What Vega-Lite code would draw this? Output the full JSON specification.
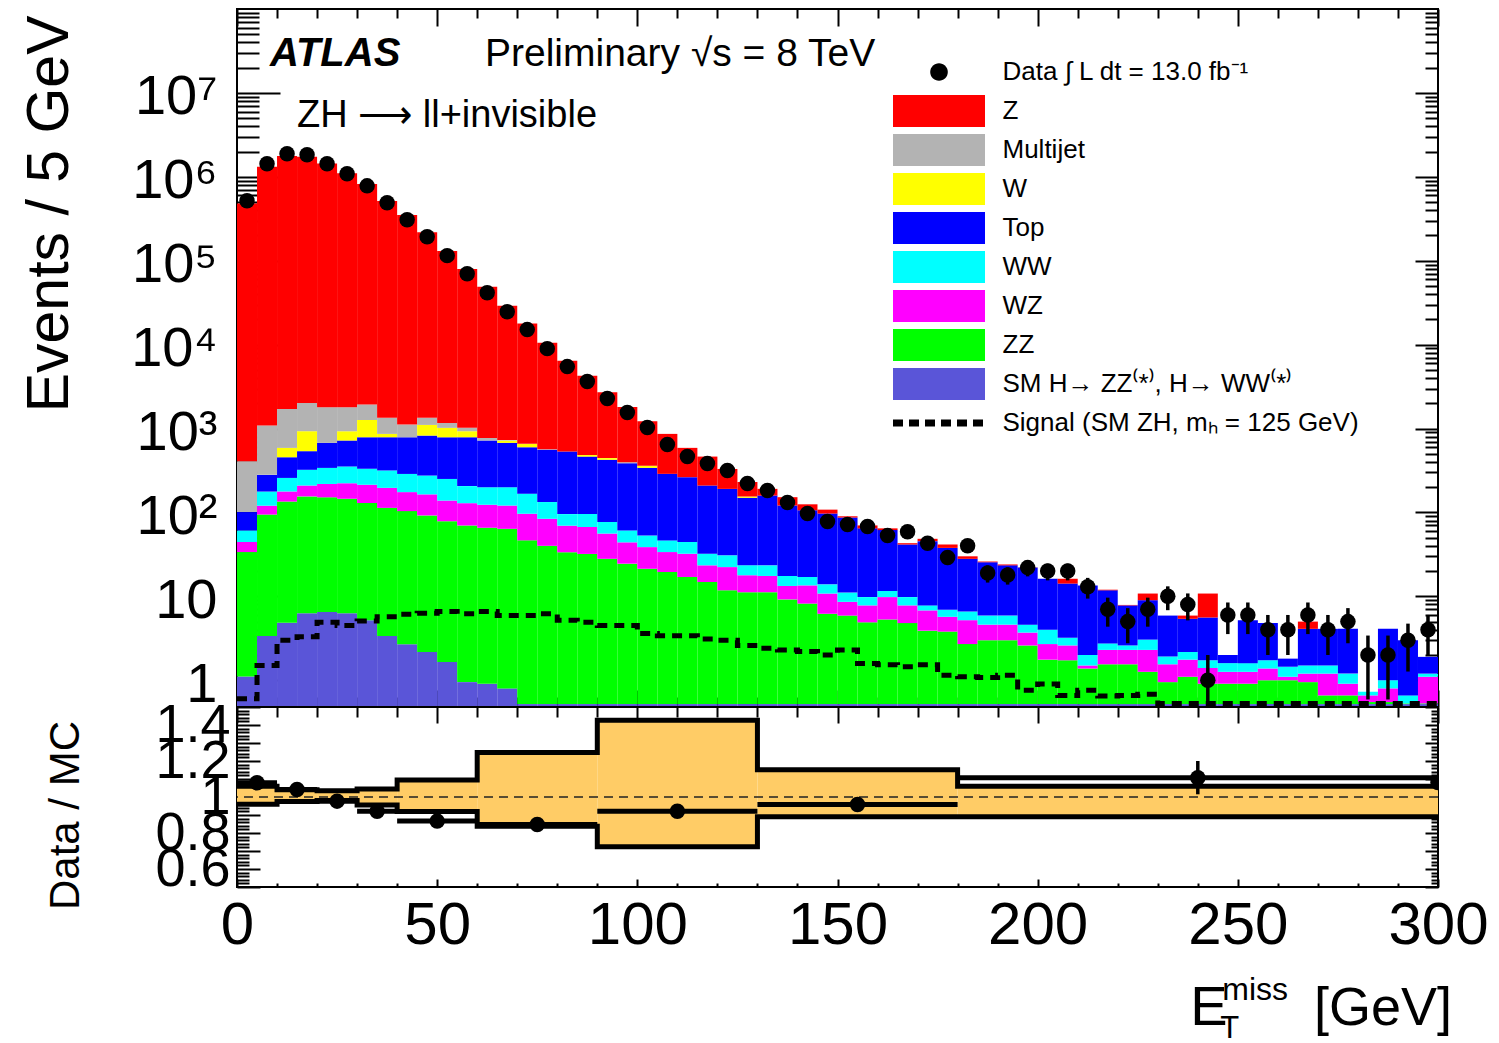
{
 "$schema": "https://vega.github.io/schema/vega-lite/v6.json",
 "autosize": {"type": "none"},
 "padding": {"left": 237, "top": 9, "right": 61, "bottom": 1034},
 "background": "white",
 "config": {
  "font": "Liberation Sans",
  "view": {"stroke": "black", "strokeWidth": 2},
  "axis": {"domain": false, "grid": false, "tickColor": "black", "tickWidth": 2, "labelColor": "black", "titleColor": "black", "titleFontWeight": "normal", "labelFont": "Liberation Sans", "titleFont": "Liberation Sans"},
  "legend": {"labelFont": "Liberation Sans", "labelColor": "black"}
 },
 "datasets": {
  "procs": [{"p":"SMH","k":1},{"p":"ZZ","k":2},{"p":"WZ","k":3},{"p":"WW","k":4},{"p":"Top","k":5},{"p":"W","k":6},{"p":"Multijet","k":7},{"p":"Z","k":8}],
  "mc": [
   {"lo":0,"hi":5,"SMH":1.11,"ZZ":32.6,"WZ":10.7,"WW":16.6,"Top":40,"W":0,"Multijet":307,"Z":479600},
   {"lo":5,"hi":10,"SMH":3.37,"ZZ":91,"WZ":26,"WW":57,"Top":103,"W":0,"Multijet":803,"Z":1319000},
   {"lo":10,"hi":15,"SMH":4.85,"ZZ":130,"WZ":43,"WW":80,"Top":197,"W":133,"Multijet":1126,"Z":1768000},
   {"lo":15,"hi":20,"SMH":6.3,"ZZ":149,"WZ":54,"WW":113,"Top":215,"W":392,"Multijet":1089,"Z":1728000},
   {"lo":20,"hi":25,"SMH":6.5,"ZZ":145,"WZ":67,"WW":121,"Top":335,"W":0,"Multijet":1120,"Z":1438000},
   {"lo":25,"hi":30,"SMH":6.3,"ZZ":139,"WZ":78,"WW":129,"Top":367,"W":210,"Multijet":866,"Z":1098000},
   {"lo":30,"hi":35,"SMH":5.2,"ZZ":124,"WZ":84,"WW":118,"Top":456,"W":480,"Multijet":661,"Z":818000},
   {"lo":35,"hi":40,"SMH":3.37,"ZZ":110,"WZ":83,"WW":120,"Top":471,"W":76,"Multijet":477,"Z":514700},
   {"lo":40,"hi":45,"SMH":2.68,"ZZ":101,"WZ":71,"WW":113,"Top":499,"W":0,"Multijet":327,"Z":348900},
   {"lo":45,"hi":50,"SMH":2.17,"ZZ":90,"WZ":72,"WW":111,"Top":549,"W":280,"Multijet":236,"Z":217700},
   {"lo":50,"hi":55,"SMH":1.65,"ZZ":77,"WZ":60,"WW":112,"Top":536,"W":232,"Multijet":148,"Z":129800},
   {"lo":55,"hi":60,"SMH":0.95,"ZZ":69,"WZ":59,"WW":77,"Top":581,"W":142,"Multijet":90,"Z":78500},
   {"lo":60,"hi":65,"SMH":0.91,"ZZ":65,"WZ":58,"WW":76,"Top":519,"W":0,"Multijet":54,"Z":48200},
   {"lo":65,"hi":70,"SMH":0.8,"ZZ":63,"WZ":57,"WW":79,"Top":475,"W":44,"Multijet":10,"Z":28270},
   {"lo":70,"hi":75,"SMH":0.52,"ZZ":46,"WZ":50,"WW":71,"Top":431,"W":58,"Multijet":0,"Z":17140},
   {"lo":75,"hi":80,"SMH":0.52,"ZZ":39.5,"WZ":44,"WW":49,"Top":424,"W":0,"Multijet":8,"Z":9935},
   {"lo":80,"hi":85,"SMH":0.52,"ZZ":33,"WZ":36,"WW":26,"Top":436,"W":0,"Multijet":0,"Z":5898},
   {"lo":85,"hi":90,"SMH":0.52,"ZZ":31.5,"WZ":35,"WW":29,"Top":367,"W":20,"Multijet":0,"Z":3787},
   {"lo":90,"hi":95,"SMH":0.52,"ZZ":27.5,"WZ":28,"WW":21,"Top":347,"W":20,"Multijet":0,"Z":2256},
   {"lo":95,"hi":100,"SMH":0.52,"ZZ":24,"WZ":19.5,"WW":17,"Top":325,"W":0,"Multijet":10,"Z":1404},
   {"lo":100,"hi":105,"SMH":0.52,"ZZ":20.8,"WZ":17.3,"WW":14.4,"Top":287,"W":20,"Multijet":0,"Z":862},
   {"lo":105,"hi":110,"SMH":0.52,"ZZ":19,"WZ":14.2,"WW":12.7,"Top":242,"W":0,"Multijet":0,"Z":575},
   {"lo":110,"hi":115,"SMH":0.52,"ZZ":16.5,"WZ":15.2,"WW":12.2,"Top":219,"W":0,"Multijet":0,"Z":325},
   {"lo":115,"hi":120,"SMH":0.52,"ZZ":14.3,"WZ":8.6,"WW":8.8,"Top":177,"W":0,"Multijet":0,"Z":254},
   {"lo":120,"hi":125,"SMH":0.52,"ZZ":11.3,"WZ":10.5,"WW":8.5,"Top":160,"W":0,"Multijet":0,"Z":139},
   {"lo":125,"hi":130,"SMH":0.52,"ZZ":10.7,"WZ":6.6,"WW":5.6,"Top":126,"W":5,"Multijet":0,"Z":76},
   {"lo":130,"hi":135,"SMH":0.52,"ZZ":10.68,"WZ":6.3,"WW":5.9,"Top":135.6,"W":0,"Multijet":0,"Z":32},
   {"lo":135,"hi":140,"SMH":0.52,"ZZ":8.68,"WZ":4.1,"WW":4.2,"Top":103.5,"W":0,"Multijet":0,"Z":31},
   {"lo":140,"hi":145,"SMH":0.52,"ZZ":7.68,"WZ":5.3,"WW":3.5,"Top":89,"W":0,"Multijet":0,"Z":19},
   {"lo":145,"hi":150,"SMH":0.52,"ZZ":5.68,"WZ":4.6,"WW":3.1,"Top":83.1,"W":0,"Multijet":0,"Z":11},
   {"lo":150,"hi":155,"SMH":0.52,"ZZ":5.38,"WZ":2.7,"WW":2.5,"Top":75.9,"W":0,"Multijet":0,"Z":3},
   {"lo":155,"hi":160,"SMH":0.52,"ZZ":4.38,"WZ":2.9,"WW":2.0,"Top":54.8,"W":0,"Multijet":0,"Z":5.4},
   {"lo":160,"hi":165,"SMH":0.52,"ZZ":4.78,"WZ":4.5,"WW":1.8,"Top":50,"W":0,"Multijet":0,"Z":3},
   {"lo":165,"hi":170,"SMH":0.52,"ZZ":4.28,"WZ":3.0,"WW":2.0,"Top":31.7,"W":0,"Multijet":0,"Z":1.5},
   {"lo":170,"hi":175,"SMH":0.52,"ZZ":3.38,"WZ":2.9,"WW":1.0,"Top":37.7,"W":0,"Multijet":0,"Z":3},
   {"lo":175,"hi":180,"SMH":0.52,"ZZ":3.28,"WZ":1.9,"WW":1.2,"Top":30.9,"W":0,"Multijet":0,"Z":3.7},
   {"lo":180,"hi":185,"SMH":0.52,"ZZ":2.18,"WZ":2.5,"WW":1.4,"Top":21.4,"W":0,"Multijet":0,"Z":2},
   {"lo":185,"hi":190,"SMH":0.52,"ZZ":2.48,"WZ":1.6,"WW":1.3,"Top":19.6,"W":0,"Multijet":0,"Z":0.5},
   {"lo":190,"hi":195,"SMH":0.52,"ZZ":2.48,"WZ":1.6,"WW":1.3,"Top":17.5,"W":0,"Multijet":0,"Z":0.6},
   {"lo":195,"hi":200,"SMH":0.52,"ZZ":2.08,"WZ":1.1,"WW":0.9,"Top":17.4,"W":0,"Multijet":0,"Z":0.1},
   {"lo":200,"hi":205,"SMH":0.52,"ZZ":1.24,"WZ":0.94,"WW":1.3,"Top":12.2,"W":0,"Multijet":0,"Z":0},
   {"lo":205,"hi":210,"SMH":0.52,"ZZ":1.21,"WZ":0.87,"WW":0.6,"Top":11.0,"W":0,"Multijet":0,"Z":2.0},
   {"lo":210,"hi":215,"SMH":0.52,"ZZ":0.86,"WZ":0.12,"WW":0.5,"Top":11.5,"W":0,"Multijet":0,"Z":0},
   {"lo":215,"hi":220,"SMH":0.52,"ZZ":1.03,"WZ":0.75,"WW":0.45,"Top":9.05,"W":0,"Multijet":0,"Z":0.2},
   {"lo":220,"hi":225,"SMH":0.52,"ZZ":1.03,"WZ":0.75,"WW":0.3,"Top":5.2,"W":0,"Multijet":0,"Z":0.1},
   {"lo":225,"hi":230,"SMH":0.52,"ZZ":0.74,"WZ":1.04,"WW":0.75,"Top":5.95,"W":0,"Multijet":0,"Z":1.8},
   {"lo":230,"hi":235,"SMH":0.52,"ZZ":0.43,"WZ":0.6,"WW":0.37,"Top":3.98,"W":0,"Multijet":0,"Z":0},
   {"lo":235,"hi":240,"SMH":0.52,"ZZ":0.58,"WZ":0.66,"WW":0.41,"Top":3.23,"W":0,"Multijet":0,"Z":0.5},
   {"lo":240,"hi":245,"SMH":0.52,"ZZ":0.39,"WZ":0.49,"WW":0.33,"Top":3.87,"W":0,"Multijet":0,"Z":5.2},
   {"lo":245,"hi":250,"SMH":0.52,"ZZ":0.39,"WZ":0.35,"WW":0.34,"Top":0.4,"W":0,"Multijet":0,"Z":0},
   {"lo":250,"hi":255,"SMH":0.52,"ZZ":0.39,"WZ":0.35,"WW":0.34,"Top":3.6,"W":0,"Multijet":0,"Z":0},
   {"lo":255,"hi":260,"SMH":0.52,"ZZ":0.48,"WZ":0.38,"WW":0.35,"Top":3.07,"W":0,"Multijet":0,"Z":0},
   {"lo":260,"hi":265,"SMH":0.52,"ZZ":0.48,"WZ":0.1,"WW":0.35,"Top":0.36,"W":0,"Multijet":0,"Z":0},
   {"lo":265,"hi":270,"SMH":0.52,"ZZ":0.43,"WZ":0.25,"WW":0.3,"Top":2.6,"W":0,"Multijet":0,"Z":0.9},
   {"lo":270,"hi":275,"SMH":0.52,"ZZ":0.14,"WZ":0.54,"WW":0.3,"Top":2.6,"W":0,"Multijet":0,"Z":0},
   {"lo":275,"hi":280,"SMH":0.52,"ZZ":0.14,"WZ":0.25,"WW":0.29,"Top":2.9,"W":0,"Multijet":0,"Z":0},
   {"lo":280,"hi":285,"SMH":0.52,"ZZ":0.03,"WZ":0.11,"WW":0.07,"Top":0,"W":0,"Multijet":0,"Z":0},
   {"lo":285,"hi":290,"SMH":0.52,"ZZ":0.03,"WZ":0.25,"WW":0.2,"Top":3.1,"W":0,"Multijet":0,"Z":0},
   {"lo":290,"hi":295,"SMH":0.52,"ZZ":0.01,"WZ":0,"WW":0.13,"Top":2.34,"W":0,"Multijet":0,"Z":0},
   {"lo":295,"hi":300,"SMH":0.52,"ZZ":0.01,"WZ":0.57,"WW":0.1,"Top":0.7,"W":0,"Multijet":0,"Z":0}
  ],
  "sig": [
   {"x":0,"s":0.6},{"x":5,"s":1.5},{"x":10,"s":3.0},{"x":15,"s":3.3},{"x":20,"s":4.9},{"x":25,"s":4.5},{"x":30,"s":5.1},{"x":35,"s":5.7},{"x":40,"s":6.1},{"x":45,"s":6.3},
   {"x":50,"s":6.6},{"x":55,"s":6.2},{"x":60,"s":6.6},{"x":65,"s":5.9},{"x":70,"s":5.9},{"x":75,"s":6.2},{"x":80,"s":5.2},{"x":85,"s":4.9},{"x":90,"s":4.5},{"x":95,"s":4.5},
   {"x":100,"s":3.6},{"x":105,"s":3.4},{"x":110,"s":3.4},{"x":115,"s":3.1},{"x":120,"s":3.0},{"x":125,"s":2.6},{"x":130,"s":2.4},{"x":135,"s":2.3},{"x":140,"s":2.2},{"x":145,"s":2.0},
   {"x":150,"s":2.3},{"x":155,"s":1.58},{"x":160,"s":1.53},{"x":165,"s":1.45},{"x":170,"s":1.53},{"x":175,"s":1.15},{"x":180,"s":1.1},{"x":185,"s":1.08},{"x":190,"s":1.15},{"x":195,"s":0.76},
   {"x":200,"s":0.9},{"x":205,"s":0.66},{"x":210,"s":0.76},{"x":215,"s":0.65},{"x":220,"s":0.66},{"x":225,"s":0.68},{"x":230,"s":0.53},{"x":235,"s":0.53},{"x":240,"s":0.53},{"x":245,"s":0.53},
   {"x":250,"s":0.53},{"x":255,"s":0.53},{"x":260,"s":0.53},{"x":265,"s":0.53},{"x":270,"s":0.53},{"x":275,"s":0.53},{"x":280,"s":0.53},{"x":285,"s":0.53},{"x":290,"s":0.53},{"x":295,"s":0.53},
   {"x":300,"s":0.53}
  ],
  "pts": [
   {"c":2.5,"n":518000,"lo":517280,"hi":518720},{"c":7.5,"n":1430000,"lo":1428800,"hi":1431200},{"c":12.5,"n":1880000,"lo":1878600,"hi":1881400},{"c":17.5,"n":1830000,"lo":1828600,"hi":1831400},
   {"c":22.5,"n":1430000,"lo":1428800,"hi":1431200},{"c":27.5,"n":1090000,"lo":1089000,"hi":1091000},{"c":32.5,"n":780000,"lo":779100,"hi":780900},{"c":37.5,"n":490000,"lo":489300,"hi":490700},
   {"c":42.5,"n":308000,"lo":307450,"hi":308550},{"c":47.5,"n":193000,"lo":192560,"hi":193440},{"c":52.5,"n":115000,"lo":114660,"hi":115340},{"c":57.5,"n":70000,"lo":69735,"hi":70265},
   {"c":62.5,"n":41600,"lo":41396,"hi":41804},{"c":67.5,"n":24700,"lo":24543,"hi":24857},{"c":72.5,"n":15100,"lo":14977,"hi":15223},{"c":77.5,"n":8960,"lo":8865,"hi":9055},
   {"c":82.5,"n":5470,"lo":5396,"hi":5544},{"c":87.5,"n":3630,"lo":3570,"hi":3690},{"c":92.5,"n":2280,"lo":2232,"hi":2328},{"c":97.5,"n":1550,"lo":1511,"hi":1589},
   {"c":102.5,"n":1030,"lo":998,"hi":1062},{"c":107.5,"n":645,"lo":620,"hi":670},{"c":112.5,"n":464,"lo":442.5,"hi":485.5},{"c":117.5,"n":383,"lo":363.4,"hi":402.6},
   {"c":122.5,"n":316,"lo":298.2,"hi":333.8},{"c":127.5,"n":221,"lo":206.1,"hi":235.9},{"c":132.5,"n":183,"lo":169.5,"hi":196.5},{"c":137.5,"n":131,"lo":119.6,"hi":142.4},
   {"c":142.5,"n":97,"lo":87.2,"hi":106.8},{"c":147.5,"n":78,"lo":69.2,"hi":86.8},{"c":152.5,"n":72,"lo":63.5,"hi":80.5},{"c":157.5,"n":68,"lo":59.8,"hi":76.2},
   {"c":162.5,"n":53,"lo":45.7,"hi":60.3},{"c":167.5,"n":59,"lo":51.3,"hi":66.7},{"c":172.5,"n":43,"lo":36.4,"hi":49.6},{"c":177.5,"n":29,"lo":23.6,"hi":34.4},
   {"c":182.5,"n":40,"lo":33.7,"hi":46.3},{"c":187.5,"n":19,"lo":14.6,"hi":23.4},{"c":192.5,"n":18,"lo":13.8,"hi":22.2},{"c":197.5,"n":22,"lo":17.3,"hi":26.7},
   {"c":202.5,"n":20,"lo":15.5,"hi":24.5},{"c":207.5,"n":20,"lo":15.5,"hi":24.5},{"c":212.5,"n":13,"lo":9.4,"hi":16.6},{"c":217.5,"n":7,"lo":4.35,"hi":9.65},
   {"c":222.5,"n":5,"lo":2.76,"hi":7.24},{"c":227.5,"n":7,"lo":4.35,"hi":9.65},{"c":232.5,"n":10,"lo":6.84,"hi":13.16},{"c":237.5,"n":8,"lo":5.17,"hi":10.83},
   {"c":242.5,"n":1,"lo":0.01,"hi":2},{"c":247.5,"n":6,"lo":3.55,"hi":8.45},{"c":252.5,"n":6,"lo":3.55,"hi":8.45},{"c":257.5,"n":4,"lo":2,"hi":6},
   {"c":262.5,"n":4,"lo":2,"hi":6},{"c":267.5,"n":6,"lo":3.55,"hi":8.45},{"c":272.5,"n":4,"lo":2,"hi":6},{"c":277.5,"n":5,"lo":2.76,"hi":7.24},
   {"c":282.5,"n":2,"lo":0.59,"hi":3.41},{"c":287.5,"n":2,"lo":0.59,"hi":3.41},{"c":292.5,"n":3,"lo":1.27,"hi":4.73},{"c":297.5,"n":4,"lo":2,"hi":6}
  ],
  "band": [
   {"lo":0,"hi":10,"dn":0.96,"up":1.06},{"lo":10,"hi":20,"dn":0.975,"up":1.04},{"lo":20,"hi":30,"dn":0.98,"up":1.035},{"lo":30,"hi":40,"dn":0.955,"up":1.045},
   {"lo":40,"hi":60,"dn":0.92,"up":1.095},{"lo":60,"hi":90,"dn":0.838,"up":1.247},{"lo":90,"hi":130,"dn":0.723,"up":1.427},{"lo":130,"hi":180,"dn":0.89,"up":1.151},
   {"lo":180,"hi":300,"dn":0.89,"up":1.06}
  ],
  "edges": [
   {"e":0,"dn":0.96,"up":1.06},{"e":10,"dn":0.975,"up":1.04},{"e":20,"dn":0.98,"up":1.035},{"e":30,"dn":0.955,"up":1.045},
   {"e":40,"dn":0.92,"up":1.095},{"e":60,"dn":0.838,"up":1.247},{"e":90,"dn":0.723,"up":1.427},{"e":130,"dn":0.89,"up":1.151},
   {"e":180,"dn":0.89,"up":1.06},{"e":300,"dn":0.89,"up":1.06}
  ],
  "rpts": [
   {"lo":0,"hi":10,"c":5,"r":1.079,"elo":1.07,"ehi":1.088},
   {"lo":10,"hi":20,"c":15,"r":1.042,"elo":1.035,"ehi":1.049},
   {"lo":20,"hi":30,"c":25,"r":0.977,"elo":0.97,"ehi":0.984},
   {"lo":30,"hi":40,"c":35,"r":0.921,"elo":0.914,"ehi":0.928},
   {"lo":40,"hi":60,"c":50,"r":0.866,"elo":0.858,"ehi":0.874},
   {"lo":60,"hi":90,"c":75,"r":0.847,"elo":0.837,"ehi":0.857},
   {"lo":90,"hi":130,"c":110,"r":0.921,"elo":0.905,"ehi":0.937},
   {"lo":130,"hi":180,"c":155,"r":0.958,"elo":0.93,"ehi":0.986},
   {"lo":180,"hi":300,"c":240,"r":1.107,"elo":1.015,"ehi":1.2},
   {"lo":300,"hi":300,"c":300,"r":1.08,"elo":1.08,"ehi":1.08}
  ]
 },
 "spacing": 0,
 "bounds": "flush",
 "vconcat": [
  {
   "width": 1201,
   "height": 698,
   "resolve": {"axis": {"x": "independent", "y": "independent"}},
   "layer": [
    {
     "data": {"name": "mc"},
     "transform": [
      {"fold": ["SMH","ZZ","WZ","WW","Top","W","Multijet","Z"], "as": ["p","v"]},
      {"lookup": "p", "from": {"data": {"name": "procs"}, "key": "p", "fields": ["k"]}},
      {"stack": "v", "groupby": ["lo"], "sort": [{"field": "k", "order": "ascending"}], "as": ["v0","v1"]}
     ],
     "mark": {"type": "rect", "strokeWidth": 0},
     "encoding": {
      "x": {"field": "lo", "type": "quantitative", "scale": {"domain": [0,300], "nice": false, "zero": false},
            "axis": {"orient": "bottom", "labels": false, "title": null, "values": [0,10,20,30,40,50,60,70,80,90,100,110,120,130,140,150,160,170,180,190,200,210,220,230,240,250,260,270,280,290,300],
                     "tickSize": {"condition": {"test": "datum.value % 50 == 0", "value": -17}, "value": -10}}},
      "x2": {"field": "hi"},
      "y": {"field": "v1", "type": "quantitative", "scale": {"type": "log", "domain": [0.48, 100000000], "nice": false, "clamp": true},
            "axis": {"orient": "left", "ticks": false, "values": [1,10,100,1000,10000,100000,1000000,10000000],
                     "labelExpr": "datum.value==1?'1':datum.value==10?'10':datum.value==100?'10²':datum.value==1000?'10³':datum.value==10000?'10⁴':datum.value==100000?'10⁵':datum.value==1000000?'10⁶':datum.value==10000000?'10⁷':''",
                     "labelFontSize": 56, "labelPadding": 20, "labelBaseline": "middle", "labelOffset": 4, "labelOverlap": false,
                     "title": "Events / 5 GeV", "titleFontSize": 59, "titleX": -170, "titleY": 6, "titleAlign": "right", "titleAngle": -90, "titleBaseline": "alphabetic"}},
      "y2": {"field": "v0"},
      "color": {"field": "p", "type": "nominal",
                "scale": {"domain": ["Data","Z","Multijet","W","Top","WW","WZ","ZZ","SMH","Signal"],
                          "range": ["#000000","#ff0000","#b3b3b3","#ffff00","#0000ff","#00ffff","#ff00ff","#00ff00","#5a55d8","#000000"]},
                "legend": {"title": null, "orient": "none", "legendX": 656, "legendY": 47, "direction": "vertical", "padding": 0,
                           "symbolSize": 1024, "symbolType": "M-2.875,-1H2.875V1H-2.875Z", "symbolStrokeWidth": 7, "symbolOffset": 26.5,
                           "clipHeight": 32, "rowPadding": 7,
                           "labelOffset": 44, "labelFontSize": 26, "labelLimit": 700,
                           "labelExpr": "datum.value=='Data'?'Data ∫ L dt = 13.0 fb⁻¹':datum.value=='SMH'?'SM H→ ZZ⁽*⁾, H→ WW⁽*⁾':datum.value=='Signal'?'Signal (SM ZH, mₕ = 125 GeV)':datum.label",
                           "encode": {"symbols": {"update": {
                             "shape": {"signal": "datum.value=='Data'?'M-0.55,0A0.55,0.55,0,1,1,0.55,0A0.55,0.55,0,1,1,-0.55,0Z':(datum.value=='Signal'?'M-2.875,0H2.875':'M-2.875,-1H2.875V1H-2.875Z')"},
                             "strokeDash": {"signal": "datum.value=='Signal'?[10,6]:[1,0]"},
                             "stroke": {"signal": "datum.value=='Signal'?'black':'transparent'"}
                           }}}}}
     }
    },
    {
     "data": {"name": "sig"},
     "mark": {"type": "line", "interpolate": "step-after", "color": "black", "strokeWidth": 5, "strokeDash": [10,7]},
     "encoding": {
      "x": {"field": "x", "type": "quantitative",
            "axis": {"orient": "top", "labels": false, "title": null, "values": [0,10,20,30,40,50,60,70,80,90,100,110,120,130,140,150,160,170,180,190,200,210,220,230,240,250,260,270,280,290,300],
                     "tickSize": {"condition": {"test": "datum.value % 50 == 0", "value": -17}, "value": -9}}},
      "y": {"field": "s", "type": "quantitative",
            "axis": {"orient": "left", "labels": false, "title": null,
                     "values": [0.5,0.6,0.7,0.8,0.9,1,2,3,4,5,6,7,8,9,10,20,30,40,50,60,70,80,90,100,200,300,400,500,600,700,800,900,1000,2000,3000,4000,5000,6000,7000,8000,9000,10000,20000,30000,40000,50000,60000,70000,80000,90000,100000,200000,300000,400000,500000,600000,700000,800000,900000,1000000,2000000,3000000,4000000,5000000,6000000,7000000,8000000,9000000,10000000,20000000,30000000,40000000,50000000,60000000,70000000,80000000,90000000],
                     "tickSize": {"condition": {"test": "indexof([1,10,100,1000,10000,100000,1000000,10000000],datum.value) >= 0", "value": -43}, "value": -22}}}
     }
    },
    {
     "data": {"name": "pts"},
     "mark": {"type": "rule", "color": "black", "strokeWidth": 3.5},
     "encoding": {
      "x": {"field": "c", "type": "quantitative", "axis": null},
      "y": {"field": "lo", "type": "quantitative",
            "axis": {"orient": "right", "labels": false, "title": null,
                     "values": [0.5,0.6,0.7,0.8,0.9,1,2,3,4,5,6,7,8,9,10,20,30,40,50,60,70,80,90,100,200,300,400,500,600,700,800,900,1000,2000,3000,4000,5000,6000,7000,8000,9000,10000,20000,30000,40000,50000,60000,70000,80000,90000,100000,200000,300000,400000,500000,600000,700000,800000,900000,1000000,2000000,3000000,4000000,5000000,6000000,7000000,8000000,9000000,10000000,20000000,30000000,40000000,50000000,60000000,70000000,80000000,90000000],
                     "tickSize": {"condition": {"test": "indexof([1,10,100,1000,10000,100000,1000000,10000000],datum.value) >= 0", "value": -23}, "value": -13}}},
      "y2": {"field": "hi"}
     }
    },
    {
     "data": {"name": "pts"},
     "mark": {"type": "point", "shape": "circle", "filled": true, "color": "black", "size": 240, "opacity": 1},
     "encoding": {
      "x": {"field": "c", "type": "quantitative", "axis": null},
      "y": {"field": "n", "type": "quantitative", "axis": null}
     }
    },
    {
     "data": {"values": [{}]},
     "mark": {"type": "text", "text": "ATLAS", "align": "left", "baseline": "alphabetic", "fontSize": 40, "fontWeight": "bold", "fontStyle": "italic", "color": "black"},
     "encoding": {"x": {"datum": 8.24, "type": "quantitative", "axis": null}, "y": {"datum": 20900000, "type": "quantitative", "axis": null}}
    },
    {
     "data": {"values": [{}]},
     "mark": {"type": "text", "text": "Preliminary √s = 8 TeV", "align": "left", "baseline": "alphabetic", "fontSize": 39, "color": "black"},
     "encoding": {"x": {"datum": 61.95, "type": "quantitative", "axis": null}, "y": {"datum": 20900000, "type": "quantitative", "axis": null}}
    },
    {
     "data": {"values": [{}]},
     "mark": {"type": "text", "text": "ZH ⟶ ll+invisible", "align": "left", "baseline": "alphabetic", "fontSize": 38, "color": "black"},
     "encoding": {"x": {"datum": 14.99, "type": "quantitative", "axis": null}, "y": {"datum": 3920000, "type": "quantitative", "axis": null}}
    }
   ]
  },
  {
   "width": 1201,
   "height": 180,
   "resolve": {"axis": {"x": "independent", "y": "independent"}},
   "layer": [
    {
     "data": {"name": "band"},
     "mark": {"type": "rect", "color": "#ffcc66", "strokeWidth": 0},
     "encoding": {
      "x": {"field": "lo", "type": "quantitative", "scale": {"domain": [0,300], "nice": false, "zero": false},
            "axis": {"orient": "bottom", "ticks": false, "values": [0,50,100,150,200,250,300], "labelFontSize": 60, "labelPadding": 9, "labelFlush": false, "labelOverlap": false, "title": null}},
      "x2": {"field": "hi"},
      "y": {"field": "dn", "type": "quantitative", "scale": {"domain": [0.5,1.5], "nice": false, "zero": false},
            "axis": {"orient": "left", "ticks": false, "values": [0.6,0.8,1,1.2,1.4], "labelExpr": "datum.value==1?'1':format(datum.value,'.1f')",
                     "labelFontSize": 54, "labelPadding": 7, "labelOverlap": false, "labelBaseline": "middle",
                     "title": "Data / MC", "titleFontSize": 42, "titleX": -159, "titleY": 108, "titleAlign": "center", "titleAngle": -90, "titleBaseline": "alphabetic"}},
      "y2": {"field": "up"}
     }
    },
    {
     "data": {"name": "edges"},
     "mark": {"type": "line", "interpolate": "step-after", "color": "black", "strokeWidth": 5},
     "encoding": {
      "x": {"field": "e", "type": "quantitative",
            "axis": {"orient": "bottom", "labels": false, "title": null, "values": [0,10,20,30,40,50,60,70,80,90,100,110,120,130,140,150,160,170,180,190,200,210,220,230,240,250,260,270,280,290,300],
                     "tickSize": {"condition": {"test": "datum.value % 50 == 0", "value": -8}, "value": -4}}},
      "y": {"field": "up", "type": "quantitative",
            "axis": {"orient": "left", "labels": false, "title": null,
                     "values": [0.5,0.52,0.54,0.56,0.58,0.6,0.62,0.64,0.66,0.68,0.7,0.72,0.74,0.76,0.78,0.8,0.82,0.84,0.86,0.88,0.9,0.92,0.94,0.96,0.98,1,1.02,1.04,1.06,1.08,1.1,1.12,1.14,1.16,1.18,1.2,1.22,1.24,1.26,1.28,1.3,1.32,1.34,1.36,1.38,1.4,1.42,1.44,1.46,1.48,1.5],
                     "tickSize": {"condition": {"test": "abs(datum.value*10 - round(datum.value*10)) < 0.001", "value": -23}, "value": -12}}}
     }
    },
    {
     "data": {"name": "edges"},
     "mark": {"type": "line", "interpolate": "step-after", "color": "black", "strokeWidth": 5},
     "encoding": {
      "x": {"field": "e", "type": "quantitative",
            "axis": {"orient": "top", "labels": false, "title": null, "values": [0,10,20,30,40,50,60,70,80,90,100,110,120,130,140,150,160,170,180,190,200,210,220,230,240,250,260,270,280,290,300],
                     "tickSize": {"condition": {"test": "datum.value % 50 == 0", "value": -16}, "value": -10}}},
      "y": {"field": "dn", "type": "quantitative",
            "axis": {"orient": "right", "labels": false, "title": null,
                     "values": [0.5,0.52,0.54,0.56,0.58,0.6,0.62,0.64,0.66,0.68,0.7,0.72,0.74,0.76,0.78,0.8,0.82,0.84,0.86,0.88,0.9,0.92,0.94,0.96,0.98,1,1.02,1.04,1.06,1.08,1.1,1.12,1.14,1.16,1.18,1.2,1.22,1.24,1.26,1.28,1.3,1.32,1.34,1.36,1.38,1.4,1.42,1.44,1.46,1.48,1.5],
                     "tickSize": {"condition": {"test": "abs(datum.value*10 - round(datum.value*10)) < 0.001", "value": -13}, "value": -7}}}
     }
    },
    {
     "data": {"values": [{}]},
     "mark": {"type": "rule", "color": "#222222", "strokeWidth": 1.5, "strokeDash": [9,6]},
     "encoding": {"y": {"datum": 1, "type": "quantitative", "axis": null}}
    },
    {
     "data": {"name": "rpts"},
     "mark": {"type": "rule", "color": "black", "strokeWidth": 5},
     "encoding": {
      "x": {"field": "lo", "type": "quantitative", "axis": null},
      "x2": {"field": "hi"},
      "y": {"field": "r", "type": "quantitative", "axis": null}
     }
    },
    {
     "data": {"name": "rpts"},
     "mark": {"type": "rule", "color": "black", "strokeWidth": 3.5},
     "encoding": {
      "x": {"field": "c", "type": "quantitative", "axis": null},
      "y": {"field": "elo", "type": "quantitative", "axis": null},
      "y2": {"field": "ehi"}
     }
    },
    {
     "data": {"name": "rpts"},
     "mark": {"type": "point", "shape": "circle", "filled": true, "color": "black", "size": 240, "opacity": 1, "clip": true},
     "encoding": {
      "x": {"field": "c", "type": "quantitative", "axis": null},
      "y": {"field": "r", "type": "quantitative", "axis": null}
     }
    },
    {
     "data": {"values": [{}]},
     "mark": {"type": "text", "text": "E", "align": "left", "baseline": "alphabetic", "fontSize": 56, "color": "black"},
     "encoding": {"x": {"datum": 238.1, "type": "quantitative", "axis": null}, "y": {"datum": -0.267, "type": "quantitative", "axis": null}}
    },
    {
     "data": {"values": [{}]},
     "mark": {"type": "text", "text": "T", "align": "left", "baseline": "alphabetic", "fontSize": 31, "color": "black"},
     "encoding": {"x": {"datum": 245.6, "type": "quantitative", "axis": null}, "y": {"datum": -0.34, "type": "quantitative", "axis": null}}
    },
    {
     "data": {"values": [{}]},
     "mark": {"type": "text", "text": "miss", "align": "left", "baseline": "alphabetic", "fontSize": 32, "color": "black"},
     "encoding": {"x": {"datum": 246.1, "type": "quantitative", "axis": null}, "y": {"datum": -0.128, "type": "quantitative", "axis": null}}
    },
    {
     "data": {"values": [{}]},
     "mark": {"type": "text", "text": "[GeV]", "align": "left", "baseline": "alphabetic", "fontSize": 54, "color": "black"},
     "encoding": {"x": {"datum": 269, "type": "quantitative", "axis": null}, "y": {"datum": -0.267, "type": "quantitative", "axis": null}}
    }
   ]
  }
 ]
}
